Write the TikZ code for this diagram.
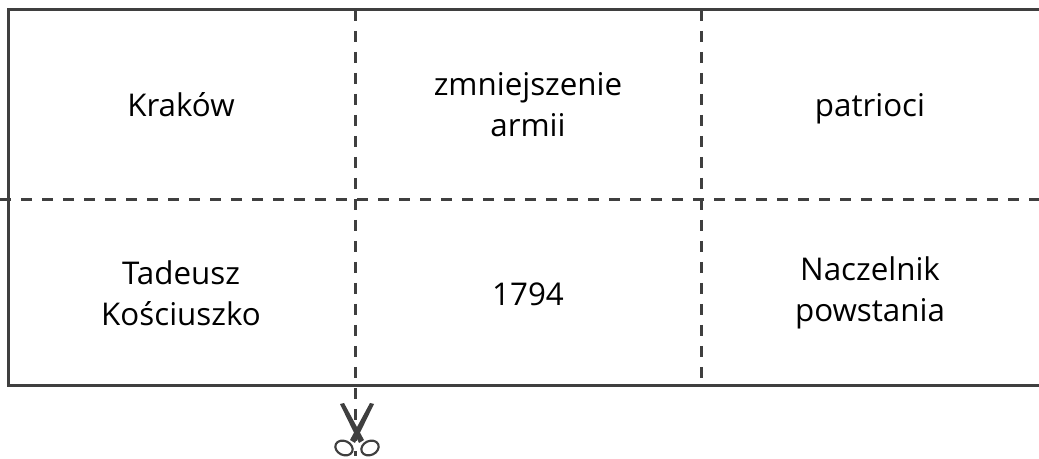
\documentclass[tikz,border=0pt]{standalone}
\usepackage{fontspec}
\setmainfont{Open Sans}
\usepackage{tikz}

\definecolor{linegray}{HTML}{3F3F3F}

\begin{document}
\begin{tikzpicture}[x=0.75pt, y=-0.75pt, line width=2.25pt,
    frame/.style={draw=linegray},
    cutline/.style={draw=linegray, dash pattern=on 8.25pt off 7.5pt},
    label/.style={align=center, inner sep=0pt,
      font=\fontsize{23.5}{30.75}\selectfont}]
  \useasboundingbox (0,0) rectangle (1039,459);

  % frame, open at the right
  \draw[frame] (1039,10) -- (8,10) -- (8,386) -- (1039,386);

  % cutting lines
  \draw[cutline] (0,200) -- (1039,200);
  \draw[cutline] (355,10) -- (355,456);
  \draw[cutline] (701,10) -- (701,386);

  % cards
  \node[label, anchor=base](krakow) at (181,117) {Kraków};
  \node[label](armia) at (528,105) {zmniejszenie\\armii};
  \node[label, anchor=base](patrioci) at (870,117) {patrioci};
  \node[label](tadeusz) at (181,293) {Tadeusz\\Kościuszko};
  \node[label](rok) at (528,294) {1794};
  \node[label](naczelnik) at (870,293) {Naczelnik\\powstania};

  % scissors
  \fill[linegray] (340,404) -- (344,403) -- (364,440) -- (359,443) -- cycle;
  \fill[linegray] (370,403) -- (374,404) -- (355,443) -- (350,440) -- cycle;
  \draw[linegray, line width=1.6pt, rotate around={-25:(344,448)}]
    (344,448) ellipse [x radius=9, y radius=7];
  \draw[linegray, line width=1.6pt, rotate around={25:(370,448)}]
    (370,448) ellipse [x radius=9, y radius=7];
\end{tikzpicture}
\end{document}
